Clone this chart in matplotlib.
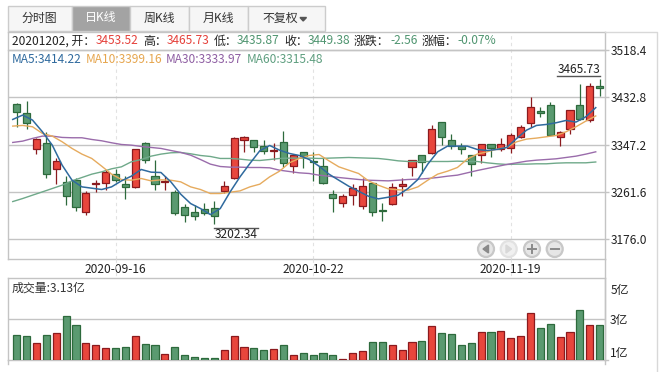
import numpy as np
import matplotlib
matplotlib.use('Agg')
import matplotlib.pyplot as plt
from matplotlib.patches import Rectangle, Circle, Polygon

plt.rcParams['font.family'] = ['Noto Sans CJK SC', 'DejaVu Sans']

opens = [3420.1, 3403.7, 3338.2, 3349.2, 3301.9, 3279.4, 3282.4, 3225.4, 3275.8, 3278.2,
         3292.8, 3276.4, 3270.9, 3349.2, 3290.9, 3279.4, 3261.8, 3234.5, 3225.4, 3230.9,
         3232.7, 3263.0, 3287.3, 3354.6, 3354.6, 3343.7, 3334.6, 3351.0, 3307.3, 3332.8,
         3317.0, 3307.3, 3258.2, 3241.8, 3256.4, 3236.4, 3278.2, 3229.1, 3240.0, 3272.7,
         3305.5, 3327.3, 3331.0, 3387.4, 3354.6, 3343.7, 3327.3, 3327.3, 3347.4, 3338.3,
         3340.1, 3360.1, 3385.6, 3407.4, 3418.3, 3360.1, 3374.6, 3418.3, 3391.0, 3453.52]
closes = [3405.6, 3385.6, 3356.4, 3292.8, 3316.4, 3254.5, 3234.5, 3260.0, 3278.2, 3296.4,
          3283.6, 3270.9, 3338.2, 3318.2, 3274.6, 3281.2, 3223.6, 3220.0, 3218.2, 3223.6,
          3218.2, 3272.7, 3358.3, 3360.1, 3341.9, 3334.6, 3336.4, 3312.8, 3327.3, 3326.7,
          3314.6, 3278.2, 3250.9, 3254.5, 3269.1, 3272.7, 3225.4, 3227.3, 3270.9, 3276.4,
          3320.0, 3314.6, 3374.6, 3360.1, 3343.7, 3338.2, 3311.0, 3347.4, 3340.1, 3347.4,
          3363.7, 3378.3, 3414.7, 3403.8, 3363.7, 3369.2, 3409.2, 3392.8, 3452.9, 3449.38]
highs = [3421.9, 3426.2, 3359.5, 3369.2, 3323.1, 3289.7, 3285.5, 3262.4, 3283.6, 3300.6,
         3301.9, 3290.9, 3338.2, 3351.0, 3320.0, 3289.7, 3265.5, 3240.0, 3237.0, 3241.8,
         3245.4, 3280.6, 3360.7, 3361.9, 3354.6, 3354.6, 3349.2, 3371.0, 3329.1, 3332.8,
         3332.8, 3321.9, 3264.3, 3258.2, 3276.4, 3287.3, 3278.2, 3241.8, 3278.2, 3287.3,
         3320.0, 3327.3, 3381.9, 3387.4, 3365.5, 3350.9, 3327.3, 3347.4, 3347.4, 3358.3,
         3367.4, 3381.9, 3432.9, 3414.7, 3423.8, 3371.0, 3409.2, 3456.5, 3458.3, 3465.73]
lows = [3378.3, 3374.6, 3329.1, 3285.5, 3276.4, 3237.6, 3226.6, 3219.4, 3261.8, 3264.3,
        3279.4, 3249.1, 3269.1, 3312.8, 3265.5, 3265.5, 3220.0, 3207.2, 3210.9, 3220.0,
        3202.34, 3260.0, 3284.9, 3334.0, 3332.8, 3330.4, 3318.2, 3306.7, 3294.6, 3303.7,
        3281.8, 3276.4, 3225.4, 3234.0, 3237.6, 3230.3, 3217.6, 3209.1, 3238.2, 3254.5,
        3289.7, 3294.6, 3329.1, 3345.5, 3338.2, 3329.1, 3290.3, 3312.8, 3323.7, 3334.6,
        3331.0, 3358.3, 3378.3, 3396.5, 3363.7, 3343.7, 3365.5, 3391.0, 3387.4, 3435.87]

ma5 = [3392.8, 3400.7, 3391.6, 3370.4, 3346.1, 3309.7, 3282.4, 3270.3, 3267.9, 3265.5,
       3270.3, 3281.2, 3289.7, 3301.9, 3297.0, 3296.4, 3279.4, 3257.0, 3240.0, 3230.9,
       3220.0, 3230.9, 3261.2, 3288.5, 3312.8, 3335.8, 3345.5, 3337.0, 3331.0, 3327.3,
       3320.0, 3307.9, 3293.4, 3282.4, 3271.5, 3262.4, 3253.3, 3248.5, 3251.5, 3255.2,
       3267.3, 3283.7, 3311.6, 3334.0, 3344.3, 3344.3, 3344.3, 3338.3, 3336.4, 3338.3,
       3341.9, 3358.3, 3373.4, 3381.9, 3383.7, 3386.8, 3391.0, 3388.0, 3397.7, 3414.22]
ma10 = [3380.7, 3381.9, 3379.5, 3367.4, 3362.5, 3352.2, 3340.1, 3329.8, 3321.9, 3307.9,
        3293.4, 3283.7, 3282.4, 3285.5, 3281.2, 3283.1, 3282.4, 3279.4, 3270.3, 3265.5,
        3258.2, 3258.2, 3260.6, 3263.0, 3270.3, 3275.2, 3288.5, 3298.8, 3314.0, 3321.9,
        3327.3, 3329.1, 3317.6, 3306.7, 3300.6, 3294.6, 3281.2, 3273.3, 3266.7, 3264.9,
        3264.3, 3270.3, 3282.4, 3293.4, 3298.8, 3305.5, 3320.7, 3329.8, 3334.0, 3338.9,
        3341.9, 3352.2, 3357.1, 3358.9, 3361.3, 3363.7, 3370.4, 3379.5, 3389.8, 3399.16]
ma30 = [3351.0, 3353.4, 3358.3, 3362.5, 3362.5, 3360.1, 3359.5, 3359.5, 3356.4, 3354.0,
        3350.4, 3347.3, 3346.1, 3343.7, 3341.9, 3340.1, 3336.4, 3332.8, 3327.9, 3320.0,
        3311.6, 3307.3, 3306.1, 3306.1, 3305.5, 3305.5, 3304.9, 3300.6, 3298.2, 3295.8,
        3294.6, 3291.5, 3289.7, 3287.3, 3285.5, 3283.7, 3282.4, 3281.8, 3281.2, 3282.4,
        3283.7, 3284.3, 3285.5, 3287.3, 3289.7, 3291.6, 3295.8, 3300.0, 3303.7, 3307.3,
        3311.0, 3314.0, 3317.0, 3318.8, 3320.0, 3321.3, 3323.7, 3326.1, 3329.8, 3333.97]
ma60 = [3243.6, 3249.1, 3255.2, 3261.2, 3267.3, 3273.4, 3281.2, 3287.3, 3293.4, 3297.6,
        3303.1, 3306.7, 3315.8, 3320.0, 3326.1, 3329.8, 3332.2, 3332.8, 3330.4, 3327.3,
        3325.5, 3321.9, 3321.9, 3320.7, 3318.8, 3318.2, 3320.0, 3321.9, 3322.5, 3322.5,
        3322.5, 3321.9, 3322.5, 3323.1, 3323.7, 3323.1, 3322.5, 3321.9, 3320.0, 3317.6,
        3316.4, 3316.4, 3316.4, 3316.4, 3316.4, 3317.0, 3316.4, 3316.4, 3314.0, 3312.2,
        3311.0, 3311.6, 3311.6, 3312.2, 3312.2, 3313.4, 3314.0, 3314.0, 3314.0, 3315.48]

volumes = [2.18, 2.09, 1.46, 2.18, 2.35, 3.87, 3.07, 1.46, 1.28, 1.01,
           1.01, 1.10, 2.09, 1.37, 1.28, 0.48, 1.10, 0.39, 0.21, 0.12,
           0.12, 0.83, 2.09, 1.10, 1.01, 0.83, 0.92, 1.28, 0.39, 0.57,
           0.39, 0.57, 0.39, 0.03, 0.57, 0.75, 1.55, 1.55, 1.28, 0.83,
           1.55, 1.64, 3.04, 2.41, 2.32, 1.34, 1.52, 2.50, 2.50, 2.59,
           1.97, 2.15, 4.20, 2.86, 3.22, 2.06, 2.50, 4.47, 3.13, 3.13]

price_ticks = [3518.4, 3432.8, 3347.2, 3261.6, 3176.0]
date_idx = [10, 30, 50]
date_labels = ['2020-09-16', '2020-10-22', '2020-11-19']
vol_tick_pos = [6.35, 3.64, 0.69]
vol_tick_labels = ['5亿', '3亿', '1亿']
tabs = ['分时图', '日K线', '周K线', '月K线', '不复权']

RED = '#e8463c'
RED_DARK = '#8b1a1e'
GREEN = '#5a9a70'
GREEN_DARK = '#2d6a3c'
TXT_RED = '#e5403a'
TXT_GREEN = '#4f9570'
GRID = '#c4c4c4'
W, H = 661, 372


def px_axes(fig, x0, y0, x1, y1):
    return fig.add_axes([x0 / W, 1 - y1 / H, (x1 - x0) / W, (y1 - y0) / H])


fig = plt.figure(figsize=(W / 100, H / 100), dpi=100)

xs = np.arange(len(opens))
xlim = (-0.931, 59.567)
ups = [c >= o for o, c in zip(opens, closes)]

# k line panel
ax = px_axes(fig, 7.5, 31.7, 605.3, 259.3)
ax.set_xlim(xlim)
ax.set_ylim(3138.7, 3552.2)
for i in xs:
    edge = RED_DARK if ups[i] else GREEN_DARK
    fill = RED if ups[i] else GREEN
    ax.plot([i, i], [lows[i], highs[i]], color=edge, lw=0.9, zorder=2, solid_capstyle='butt')
    ax.bar(i, abs(closes[i] - opens[i]), bottom=min(opens[i], closes[i]), width=0.72,
           facecolor=fill, edgecolor=edge, lw=0.9, zorder=3)
line_x = xs - 0.4
ax.plot(line_x, ma60, color='#6fa98a', lw=1.0, zorder=4)
ax.plot(line_x, ma30, color='#9a6cab', lw=1.0, zorder=4)
ax.plot(line_x, ma10, color='#e6ab5e', lw=1.0, zorder=4)
ax.plot(line_x, ma5, color='#2f6a9e', lw=1.1, zorder=5)

ax.yaxis.tick_right()
ax.set_yticks(price_ticks)
ax.set_yticklabels(['%.1f' % p for p in price_ticks], fontsize=8.6, color='#222222')
ax.set_xticks(xs[date_idx])
ax.set_xticklabels(date_labels, fontsize=8.6, color='#222222')
ax.tick_params(axis='y', length=3, width=1, color=GRID, pad=1)
ax.tick_params(axis='x', length=0, pad=2.5)
ax.grid(axis='y', color=GRID, lw=1, zorder=0)
ax.grid(axis='x', color='#e2e2e2', lw=0.8, linestyle=(0, (3, 3)), zorder=0)
ax.set_axisbelow(True)
for s in ax.spines.values():
    s.set_color(GRID)
    s.set_linewidth(1)

# the low label runs to the right of its candle, the high label to the left
ax.text(22.2, 3195, '3202.34', fontsize=8.6, color='#222222', ha='center', va='top')
ax.plot([20, 24.4], [3196.4, 3196.4], color='#555555', lw=1)
ax.text(56.9, 3465.73 + 6.5, '3465.73', fontsize=8.6, color='#222222', ha='center', va='bottom')
ax.plot([54.7, 59.05], [3465.73 + 6, 3465.73 + 6], color='#555555', lw=1)

# volume panel
axv = px_axes(fig, 7.5, 278.3, 605.3, 359.7)
axv.set_xlim(xlim)
axv.set_ylim(0, 7.28)
axv.bar(xs, volumes, width=0.72,
        color=[RED if u else GREEN for u in ups],
        edgecolor=[RED_DARK if u else GREEN_DARK for u in ups], lw=0.9, zorder=3)
axv.yaxis.tick_right()
axv.set_yticks(vol_tick_pos)
axv.set_yticklabels(vol_tick_labels, fontsize=8.6, color='#222222')
axv.tick_params(axis='y', length=0, pad=3.5)
axv.set_xticks([])
axv.axhline(vol_tick_pos[1], color=GRID, lw=1, zorder=0)
for s in axv.spines.values():
    s.set_color(GRID)
    s.set_linewidth(1)

# chrome drawn in pixel coordinates
ov = fig.add_axes([0, 0, 1, 1])
ov.set_xlim(0, W)
ov.set_ylim(H, 0)
ov.axis('off')
ov.patch.set_alpha(0)

tab_edges = [7.5, 72, 130, 189, 248, 324.5]
for k, name in enumerate(tabs):
    active = k == 1
    ov.add_patch(Rectangle((tab_edges[k], 5.5), tab_edges[k + 1] - tab_edges[k], 25,
                           facecolor='#a3a3a3' if active else '#f6f6f6', edgecolor='#cccccc', lw=1))
    cx = (tab_edges[k] + tab_edges[k + 1]) / 2
    if k == 4:
        cx -= 6
        ov.add_patch(Polygon([[300, 17.5], [306.5, 17.5], [303.2, 21]], color='#555555'))
    ov.text(cx, 18, name, fontsize=8.6, ha='center', va='center', color='white' if active else '#333333')

ov.plot([605.3, 656.5, 656.5], [31.7, 31.7, 372], color='#d8d8d8', lw=1)
ov.plot([7.5, 7.5], [359.7, 364], color=GRID, lw=1)
ov.plot([605.3, 605.3], [259.3, 364], color=GRID, lw=1)
ov.plot([605.3, 608], [359.7, 359.7], color=GRID, lw=1)
ov.plot([7.5, 605.3], [50.3, 50.3], color=GRID, lw=1)
for i in date_idx:
    px = 7.5 + (i - xlim[0]) / (xlim[1] - xlim[0]) * 597.8
    ov.plot([px, px], [259.3, 278.3], color='#e2e2e2', lw=0.8, linestyle=(0, (3, 3)))

header = [(12, '20201202, 开：', '#222222'), (96, '3453.52', TXT_RED), (143, '高：', '#222222'),
          (167, '3465.73', TXT_RED), (214, '低：', '#222222'), (237, '3435.87', TXT_GREEN),
          (284, '收：', '#222222'), (307.5, '3449.38', TXT_GREEN), (354, '涨跌：', '#222222'),
          (390, '-2.56', TXT_GREEN), (421.7, '涨幅：', '#222222'), (457.7, '-0.07%', TXT_GREEN)]
for x, s, c in header:
    ov.text(x, 41, s, fontsize=8.6, color=c, va='center', ha='left')

ma_labels = [(12, 'MA5:3414.22', '#2f6a9e'), (86, 'MA10:3399.16', '#e6a64f'),
             (166, 'MA30:3333.97', '#8f5fa3'), (247, 'MA60:3315.48', '#5f9f80')]
for x, s, c in ma_labels:
    ov.text(x, 59.5, s, fontsize=8.6, color=c, va='center', ha='left')

ov.text(12, 288, '成交量:3.13亿', fontsize=8.6, color='#333333', va='center', ha='left')

# zoom buttons
btn_x = [486, 508.7, 532, 554.7]
for k, x in enumerate(btn_x):
    faded = k == 1
    ov.add_patch(Circle((x, 249), 8, facecolor='#f0f0f0' if faded else '#e6e6e6',
                        edgecolor='#e2e2e2' if faded else '#c8c8c8', lw=1.6, zorder=6))
ov.add_patch(Polygon([[483, 249], [488.5, 245], [488.5, 253]], color='#8a8a8a', zorder=7))
ov.add_patch(Polygon([[511.5, 249], [506, 245], [506, 253]], color='#d8d8d8', zorder=7))
ov.plot([528, 536], [249, 249], color='#8a8a8a', lw=1.4, zorder=7)
ov.plot([532, 532], [245, 253], color='#8a8a8a', lw=1.4, zorder=7)
ov.plot([550.7, 558.7], [249, 249], color='#8a8a8a', lw=1.4, zorder=7)

fig.savefig('out.png', dpi=100)
